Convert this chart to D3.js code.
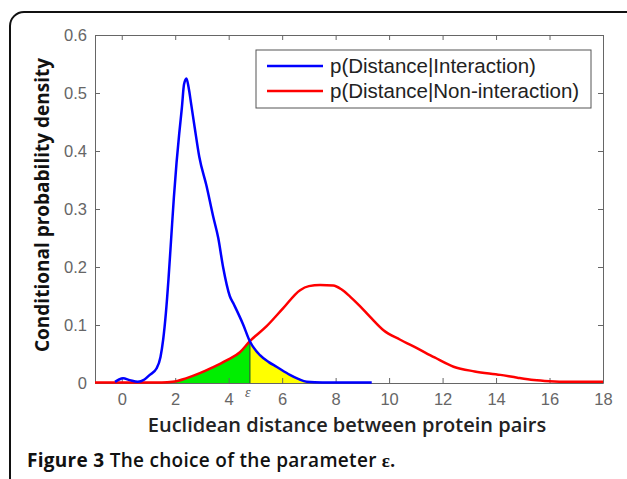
<!DOCTYPE html>
<html><head><meta charset="utf-8">
<script src="https://cdn.jsdelivr.net/npm/d3@7"></script>
<style>
body{margin:0;background:#fff;}
svg{display:block;}
</style></head>
<body><svg id="c" width="627" height="479"></svg>
<script>
// ---- data ----
const xTicks = [0,2,4,6,8,10,12,14,16,18];
const yTicks = [0,0.1,0.2,0.3,0.4,0.5,0.6];
const seriesNames = ["p(Distance|Interaction)", "p(Distance|Non-interaction)"];
const blueX = [-0.25,-0.1,0.05,0.3,0.6,0.85,1.05,1.3,1.45,1.55,1.65,1.75,1.85,1.95,2.05,2.15,2.25,2.33,2.42,2.5,2.6,2.73,2.9,3.17,3.42,3.61,3.79,4.04,4.2,4.54,4.79,5.17,5.5,5.79,6.29,6.6,6.92,7.5,9.35];
const blueY = [0.002,0.006,0.008,0.005,0.002,0.006,0.014,0.025,0.045,0.075,0.12,0.18,0.25,0.32,0.38,0.43,0.475,0.515,0.525,0.51,0.48,0.44,0.39,0.34,0.287,0.25,0.2,0.15,0.135,0.101,0.072,0.048,0.036,0.028,0.014,0.007,0.002,0.001,0.001];
const redX = [-1,1.5,1.9,2.4,2.92,3.4,3.92,4.42,4.79,5.42,6.04,6.67,7.0,7.42,7.91,8.2,8.54,8.9,9.29,9.79,10.4,11.04,11.7,12.41,13.2,14.16,14.8,15.41,16.0,16.65,18];
const redY = [0.001,0.001,0.002,0.008,0.017,0.027,0.039,0.053,0.072,0.098,0.129,0.160,0.167,0.169,0.168,0.162,0.149,0.133,0.114,0.091,0.075,0.060,0.044,0.028,0.020,0.014,0.009,0.005,0.003,0.002,0.002];
const epsilon = 4.79;
const greenStart = 1.85;
const yellowEnd = 7.0;

// ---- chart ----
const svg = d3.select("#c");
const L = 95, R = 603, T = 35, B = 383;
const x = d3.scaleLinear().domain([-1,18]).range([L,R]);
const y = d3.scaleLinear().domain([0,0.6]).range([B,T]);

// outer frame
svg.append("rect").attr("x",10).attr("y",12).attr("width",640).attr("height",500)
  .attr("rx",14).attr("fill","none").attr("stroke","#111").attr("stroke-width",2);

const blue = blueX.map((v,i)=>[v,blueY[i]]);
const red = redX.map((v,i)=>[v,redY[i]]);
const curve = d3.curveMonotoneX;

const area = d3.area().x(d=>x(d[0])).y0(y(0)).y1(d=>y(d[1])).curve(curve);
const redPart = red.filter(d=>d[0]>=greenStart && d[0]<=epsilon);
svg.append("path").datum(redPart).attr("d",area).attr("fill","#00ee00");
const bluePart = blue.filter(d=>d[0]>=epsilon && d[0]<=yellowEnd);
svg.append("path").datum(bluePart).attr("d",area).attr("fill","#ffff00");

// epsilon line
const epsY = redY[redX.indexOf(epsilon)];
svg.append("line").attr("x1",x(epsilon)).attr("x2",x(epsilon)).attr("y1",y(0)).attr("y2",y(epsY))
  .attr("stroke","#2a7a2a").attr("stroke-width",1.5);

// axes
function styleAxis(g){
  g.selectAll(".domain").attr("stroke","#666");
  g.selectAll(".tick line").attr("stroke","#666");
  g.selectAll("text").attr("fill","#666").attr("font-family","Liberation Sans, Arial, sans-serif").attr("font-size","16.5px");
}
const gx = svg.append("g").attr("transform",`translate(0,${B})`)
  .call(d3.axisBottom(x).tickValues(xTicks).tickSize(-5).tickSizeOuter(0).tickPadding(10).tickFormat(d3.format("d")));
styleAxis(gx);
const gxt = svg.append("g").attr("transform",`translate(0,${T})`)
  .call(d3.axisTop(x).tickValues(xTicks).tickSize(-5).tickSizeOuter(0).tickFormat(""));
styleAxis(gxt);
const gy = svg.append("g").attr("transform",`translate(${L},0)`)
  .call(d3.axisLeft(y).tickValues(yTicks).tickSize(-5).tickSizeOuter(0).tickPadding(8).tickFormat(d=>d===0?"0":d3.format(".1f")(d)));
styleAxis(gy);
const gyr = svg.append("g").attr("transform",`translate(${R},0)`)
  .call(d3.axisRight(y).tickValues(yTicks).tickSize(-5).tickSizeOuter(0).tickFormat(""));
styleAxis(gyr);

// curves
const line = d3.line().x(d=>x(d[0])).y(d=>y(d[1])).curve(curve);
svg.append("path").datum(red).attr("d",line).attr("fill","none").attr("stroke","#ff0000").attr("stroke-width",2.5);
svg.append("path").datum(blue).attr("d",line).attr("fill","none").attr("stroke","#0000ff").attr("stroke-width",2.5);

// epsilon label
svg.append("text").attr("x",x(epsilon)-2).attr("y",397).attr("text-anchor","middle")
  .attr("font-family","Liberation Serif, serif").attr("font-style","italic").attr("font-size","14px").attr("fill","#555").text("ε");

// legend
const lg = svg.append("g");
lg.append("rect").attr("x",256).attr("y",50).attr("width",335).attr("height",58)
  .attr("fill","#fff").attr("stroke","#555").attr("stroke-width",1);
const colors = ["#0000ff","#ff0000"];
seriesNames.forEach((n,i)=>{
  const yy = 66 + i*25;
  lg.append("line").attr("x1",267).attr("x2",323).attr("y1",yy).attr("y2",yy).attr("stroke",colors[i]).attr("stroke-width",2.5);
  lg.append("text").attr("x",330).attr("y",yy+7).attr("font-family","Liberation Sans, Arial, sans-serif")
    .attr("font-size","20.5px").attr("fill","#222").text(n);
});

// axis titles
svg.append("text").attr("x",(L+R)/2-2).attr("y",432).attr("text-anchor","middle")
  .attr("font-family","Open Sans, sans-serif").attr("font-weight",600).attr("font-size","20px").attr("fill","#222")
  .text("Euclidean distance between protein pairs");
svg.append("text").attr("transform","translate(49,205) rotate(-90)").attr("text-anchor","middle")
  .attr("font-family","Open Sans, sans-serif").attr("font-weight",700).attr("font-size","19px").attr("fill","#111")
  .text("Conditional probability density");

// caption
const cap = svg.append("text").attr("x",27).attr("y",467).attr("font-family","Open Sans, sans-serif").attr("font-size","19px").attr("fill","#111")
  .attr("textLength",368).attr("lengthAdjust","spacing");
cap.append("tspan").attr("font-weight",700).text("Figure 3");
cap.append("tspan").attr("font-weight",600).text(" The choice of the parameter ");
cap.append("tspan").attr("font-family","Liberation Serif, serif").attr("font-weight",700).text("ε.");
</script></body></html>
